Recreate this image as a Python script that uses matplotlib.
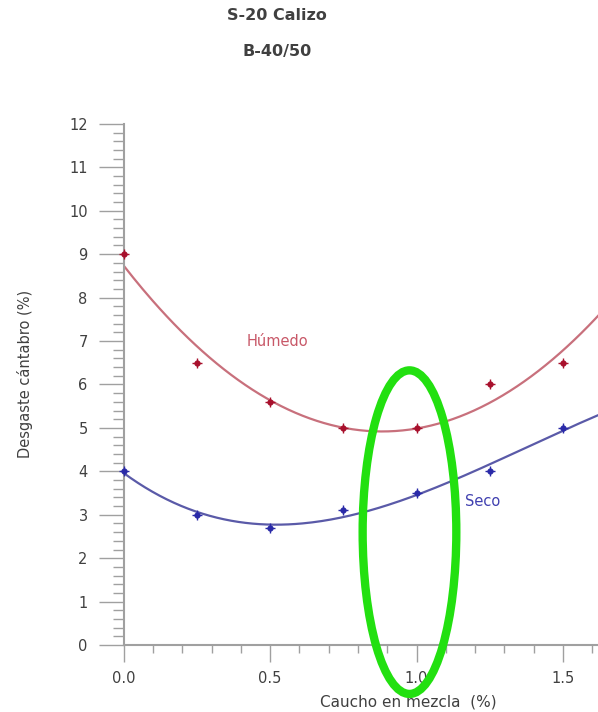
import numpy as np
import matplotlib
matplotlib.use("Agg")
import matplotlib.pyplot as plt
from matplotlib.patches import Ellipse
from matplotlib.ticker import MultipleLocator

# Datos
caucho = [0.0, 0.25, 0.5, 0.75, 1.0, 1.25, 1.5]
humedo = [9.0, 6.5, 5.6, 5.0, 5.0, 6.0, 6.5]
seco = [4.0, 3.0, 2.7, 3.1, 3.5, 4.0, 5.0]
xticks = [0.0, 0.5, 1.0, 1.5]
xlabels = ["0.0", "0.5", "1.0", "1.5"]
yticks = list(range(0, 13))

c_hum_line = "#c8707c"
c_hum_mark = "#a8102c"
c_seco_line = "#5a5aa8"
c_seco_mark = "#2a2aa8"
c_axis = "#a0a0a0"
c_text = "#404040"

fig = plt.figure(figsize=(5.98, 7.12), dpi=100)
ax = fig.add_axes([0.207, 0.094, 0.793, 0.732])

x = np.array(caucho)
xs = np.linspace(0.0, 1.62, 200)

# Curvas de ajuste
p_hum = np.polyfit(x, humedo, 2)
p_seco = np.polyfit(x, seco, 3)
ax.plot(xs, np.polyval(p_hum, xs), color=c_hum_line, lw=1.6, zorder=2)
ax.plot(xs, np.polyval(p_seco, xs), color=c_seco_line, lw=1.6, zorder=2)

# Puntos
for yv, cm in [(humedo, c_hum_mark), (seco, c_seco_mark)]:
    ax.plot(x, yv, "o", ms=3.5, color=cm, zorder=3, clip_on=False)
    ax.plot(x, yv, "+", ms=7, mew=1.0, color=cm, zorder=3, clip_on=False)

ax.text(0.42, 7.0, "Húmedo", color="#c85868", fontsize=10.5, ha="left", va="center")
ax.text(1.167, 3.3, "Seco", color="#4040b0", fontsize=10.5, ha="left", va="center")

ax.set_xlim(0.0, 1.62)
ax.set_ylim(0.0, 12.0)

for s in ["top", "right"]:
    ax.spines[s].set_visible(False)
for s in ["left", "bottom"]:
    ax.spines[s].set_color(c_axis)
    ax.spines[s].set_linewidth(1.5)

ax.set_xticks(xticks)
ax.set_xticklabels(xlabels)
ax.set_yticks(yticks)
ax.xaxis.set_minor_locator(MultipleLocator(0.1))
ax.yaxis.set_minor_locator(MultipleLocator(0.2))
ax.tick_params(axis="y", which="major", length=18, width=1.0, color=c_axis,
               labelsize=10.5, labelcolor=c_text, pad=8)
ax.tick_params(axis="y", which="minor", length=8, width=1.0, color=c_axis)
ax.tick_params(axis="x", which="major", length=12, width=1.0, color=c_axis,
               labelsize=10.5, labelcolor=c_text, pad=7)
ax.tick_params(axis="x", which="minor", length=6, width=1.0, color=c_axis)

ax.set_xlabel("Caucho en mezcla  (%)", fontsize=11, color=c_text, va="center")
ax.set_ylabel("Desgaste cántabro (%)", fontsize=10.5, color=c_text)
ax.xaxis.set_label_coords(0.60, -0.110)
ax.yaxis.set_label_coords(-0.192, 0.52)

fig.text(0.463, 0.978, "S-20 Calizo", ha="center", va="center",
         fontsize=11.5, fontweight="bold", color=c_text)
fig.text(0.463, 0.927, "B-40/50", ha="center", va="center",
         fontsize=11.5, fontweight="bold", color=c_text)

# Elipse verde de resalte
ell = Ellipse((0.976, 2.6), 0.32, 7.45, fill=False, edgecolor="#22e010",
              lw=6, clip_on=False, zorder=5)
ax.add_patch(ell)

fig.savefig("out.png", dpi=100)
